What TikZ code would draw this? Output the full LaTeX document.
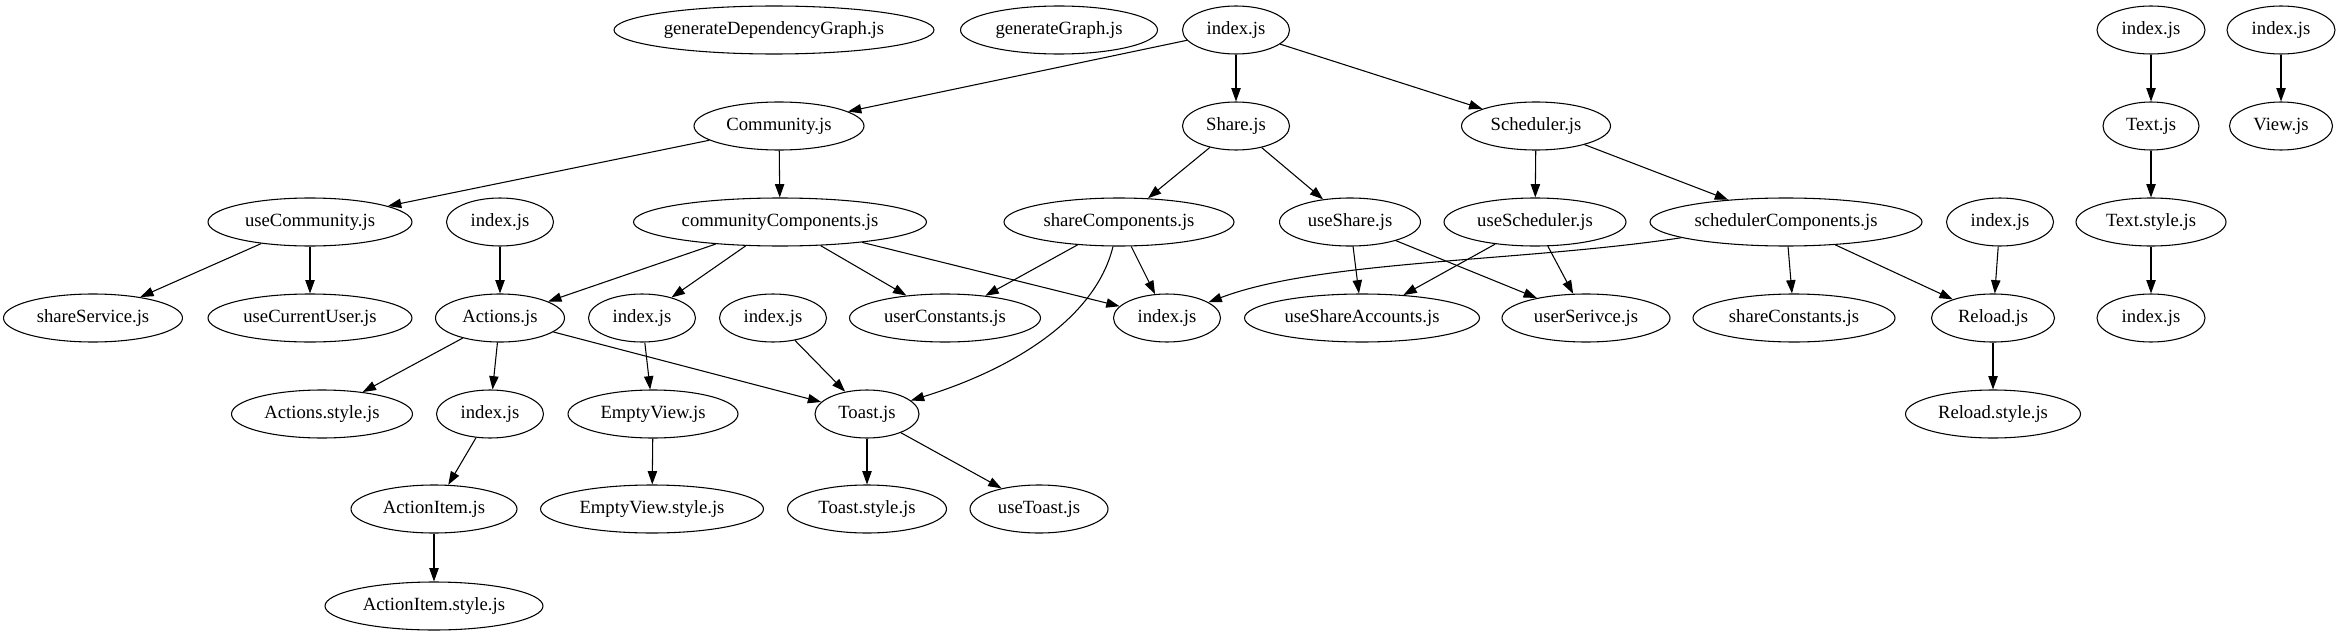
\documentclass[tikz,border=0pt]{standalone}
\usepackage{fontspec}
\setmainfont{Liberation Serif}
\usetikzlibrary{shapes.geometric,arrows.meta}
\begin{document}
\begin{tikzpicture}[x=0.75pt,y=-0.75pt,
  nd/.style={draw, ellipse, line width=0.8pt, minimum height=36pt, inner sep=0pt, font=\fontsize{14}{16}\selectfont},
  wd/.style={minimum width={#1*0.75pt}},
  ar/.style={-{Triangle[length=10pt,width=7pt]}, line width=0.8pt}]
\useasboundingbox (0,0) rectangle (2341,635);
% row 0
\node[nd,wd=320] (gdg) at (774,30) {generateDependencyGraph.js};
\node[nd,wd=197] (gg) at (1059,30) {generateGraph.js};
\node[nd,wd=107] (idx0) at (1236,30) {index.js};
\node[nd,wd=108] (idxT) at (2151,30) {index.js};
\node[nd,wd=108] (idxV) at (2281,30) {index.js};
% row 1
\node[nd,wd=170] (comm) at (779,126) {Community.js};
\node[nd,wd=107] (share) at (1236,126) {Share.js};
\node[nd,wd=149] (sched) at (1536,126) {Scheduler.js};
\node[nd,wd=96] (text) at (2151,126) {Text.js};
\node[nd,wd=103] (view) at (2281,126) {View.js};
% row 2
\node[nd,wd=204] (useComm) at (310,222) {useCommunity.js};
\node[nd,wd=107] (idxA) at (500,222) {index.js};
\node[nd,wd=293] (commC) at (780,222) {communityComponents.js};
\node[nd,wd=230] (shareC) at (1119,222) {shareComponents.js};
\node[nd,wd=141] (useShare) at (1350,222) {useShare.js};
\node[nd,wd=182] (useSched) at (1535,222) {useScheduler.js};
\node[nd,wd=272] (schedC) at (1786,222) {schedulerComponents.js};
\node[nd,wd=107] (idxR) at (2000,222) {index.js};
\node[nd,wd=150] (textStyle) at (2151,222) {Text.style.js};
% row 3
\node[nd,wd=179] (shareServ) at (93,318) {shareService.js};
\node[nd,wd=204] (useCU) at (310,318) {useCurrentUser.js};
\node[nd,wd=129] (actions) at (500,318) {Actions.js};
\node[nd,wd=107] (idxE) at (642,318) {index.js};
\node[nd,wd=107] (idxTo) at (773,318) {index.js};
\node[nd,wd=191] (userConst) at (945,318) {userConstants.js};
\node[nd,wd=107] (hub) at (1167,318) {index.js};
\node[nd,wd=235] (useSA) at (1362,318) {useShareAccounts.js};
\node[nd,wd=168] (userSer) at (1586,318) {userSerivce.js};
\node[nd,wd=202] (shareConst) at (1794,318) {shareConstants.js};
\node[nd,wd=123] (reload) at (1993,318) {Reload.js};
\node[nd,wd=108] (idxTS) at (2151,318) {index.js};
% row 4
\node[nd,wd=181] (actStyle) at (322,414) {Actions.style.js};
\node[nd,wd=107] (idxAI) at (490,414) {index.js};
\node[nd,wd=170] (emptyV) at (653,414) {EmptyView.js};
\node[nd,wd=104] (toast) at (867,414) {Toast.js};
\node[nd,wd=175] (reloadStyle) at (1993,414) {Reload.style.js};
% row 5
\node[nd,wd=166] (actItem) at (434,509) {ActionItem.js};
\node[nd,wd=223] (emptyVS) at (652,509) {EmptyView.style.js};
\node[nd,wd=159] (toastStyle) at (867,509) {Toast.style.js};
\node[nd,wd=138] (useToast) at (1039,509) {useToast.js};
% row 6
\node[nd,wd=218] (actItemStyle) at (434,606) {ActionItem.style.js};
% edges
\draw[ar] (idx0) -- (comm);
\draw[ar] (idx0) -- (share);
\draw[ar] (idx0) -- (sched);
\draw[ar] (comm) -- (useComm);
\draw[ar] (comm) -- (commC);
\draw[ar] (useComm) -- (shareServ);
\draw[ar] (useComm) -- (useCU);
\draw[ar] (idxA) -- (actions);
\draw[ar] (commC) -- (actions);
\draw[ar] (commC) -- (idxE);
\draw[ar] (commC) -- (userConst);
\draw[ar] (commC) -- (hub);
\draw[ar] (share) -- (shareC);
\draw[ar] (share) -- (useShare);
\draw[ar] (shareC) -- (userConst);
\draw[ar] (shareC) -- (hub);
\draw[ar] (shareC) .. controls (1095,320) and (1010,370) .. (toast);
\draw[ar] (useShare) -- (useSA);
\draw[ar] (useShare) -- (userSer);
\draw[ar] (sched) -- (useSched);
\draw[ar] (sched) -- (schedC);
\draw[ar] (useSched) -- (useSA);
\draw[ar] (useSched) -- (userSer);
\draw[ar] (schedC) .. controls (1520,262) and (1320,260) .. (hub);
\draw[ar] (schedC) -- (shareConst);
\draw[ar] (schedC) -- (reload);
\draw[ar] (idxR) -- (reload);
\draw[ar] (reload) -- (reloadStyle);
\draw[ar] (idxT) -- (text);
\draw[ar] (text) -- (textStyle);
\draw[ar] (textStyle) -- (idxTS);
\draw[ar] (idxV) -- (view);
\draw[ar] (actions) -- (actStyle);
\draw[ar] (actions) -- (idxAI);
\draw[ar] (actions) -- (toast);
\draw[ar] (idxE) -- (emptyV);
\draw[ar] (idxTo) -- (toast);
\draw[ar] (idxAI) -- (actItem);
\draw[ar] (emptyV) -- (emptyVS);
\draw[ar] (actItem) -- (actItemStyle);
\draw[ar] (toast) -- (toastStyle);
\draw[ar] (toast) -- (useToast);
\end{tikzpicture}
\end{document}
